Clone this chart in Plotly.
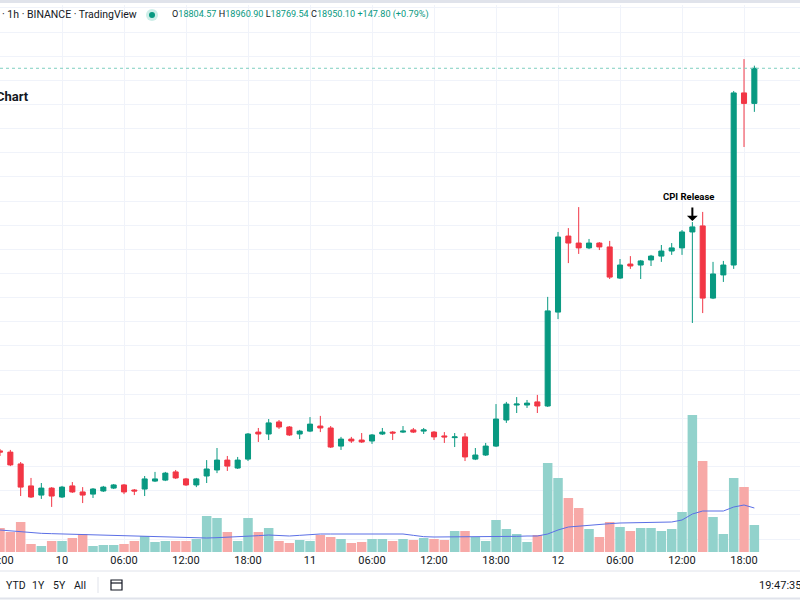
import plotly.graph_objects as go
import pandas as pd

# ---------------- data (BTC/USDT 1h, Binance) ----------------
start_time = "2023-01-09 18:00"
n_candles = 74

opens = [17365, 17360, 17311, 17220, 17182, 17211, 17174, 17220, 17195, 17186,
         17199, 17211, 17224, 17203, 17207, 17240, 17244, 17278, 17249, 17224,
         17261, 17286, 17327, 17294, 17331, 17443, 17435, 17485, 17464, 17435,
         17447, 17468, 17460, 17385, 17414, 17410, 17406, 17435, 17443, 17443,
         17452, 17447, 17443, 17427, 17420, 17423, 17331, 17348, 17385, 17493,
         17555, 17555, 17568, 17551, 17940, 18255, 18226, 18206, 18226, 18210,
         18081, 18139, 18135, 18156, 18172, 18193, 18206, 18272, 18297, 17998,
         18094, 18135, 18848, 18804.57]

highs = [17373, 17369, 17319, 17253, 17232, 17215, 17220, 17236, 17215, 17211,
         17220, 17228, 17228, 17207, 17261, 17278, 17278, 17286, 17253, 17253,
         17327, 17377, 17344, 17340, 17439, 17460, 17497, 17493, 17468, 17452,
         17505, 17510, 17468, 17423, 17423, 17439, 17435, 17460, 17447, 17468,
         17460, 17460, 17447, 17443, 17439, 17439, 17377, 17398, 17559, 17568,
         17588, 17576, 17597, 18003, 18272, 18288, 18375, 18243, 18230, 18235,
         18160, 18172, 18156, 18177, 18218, 18226, 18280, 18313, 18355, 18148,
         18152, 18856, 18988, 18960.90]

lows = [17344, 17302, 17178, 17170, 17166, 17133, 17170, 17191, 17149, 17170,
        17195, 17207, 17186, 17182, 17178, 17236, 17240, 17249, 17220, 17215,
        17232, 17273, 17282, 17290, 17323, 17402, 17410, 17456, 17427, 17414,
        17443, 17443, 17377, 17369, 17398, 17398, 17394, 17431, 17410, 17439,
        17439, 17435, 17410, 17398, 17381, 17323, 17327, 17344, 17381, 17481,
        17522, 17543, 17522, 17547, 17911, 18143, 18181, 18201, 18197, 18077,
        18077, 18119, 18077, 18131, 18148, 18177, 18177, 17895, 17936, 17994,
        18065, 18119, 18624, 18769.54]

closes = [17360, 17307, 17215, 17174, 17211, 17178, 17215, 17195, 17182, 17207,
          17215, 17224, 17195, 17199, 17249, 17249, 17273, 17253, 17224, 17249,
          17290, 17327, 17302, 17327, 17435, 17435, 17481, 17464, 17431, 17447,
          17476, 17460, 17381, 17414, 17406, 17402, 17431, 17443, 17439, 17447,
          17443, 17452, 17423, 17423, 17423, 17340, 17348, 17385, 17497, 17559,
          17559, 17563, 17551, 17945, 18251, 18226, 18206, 18226, 18210, 18085,
          18135, 18131, 18152, 18172, 18193, 18206, 18272, 18293, 17998, 18098,
          18135, 18848, 18804.57, 18950.10]

volumes = [7200, 6000, 9000, 2400, 1800, 3300, 3300, 4200, 5400, 1800,
           2100, 2100, 2400, 3300, 4800, 3000, 3300, 3300, 3300, 3900,
           10800, 10200, 6000, 3300, 10200, 6000, 7200, 3300, 2700, 3600,
           3300, 5100, 4500, 3900, 2700, 3000, 3900, 3900, 3300, 3900,
           3600, 4200, 3900, 3600, 6300, 6300, 4500, 3300, 9600, 6900,
           5400, 3000, 5100, 26700, 22200, 16200, 13200, 6900, 4500, 9000,
           7500, 6300, 7200, 7200, 6300, 6900, 12000, 41100, 27300, 10500,
           5400, 22200, 19500, 8100]

volume_ma = [6600, 6300, 6000, 5700, 5600, 5500, 5400, 5300, 5200, 5100,
             5100, 5000, 4900, 4800, 4700, 4600, 4500, 4400, 4300, 4200,
             4200, 4300, 4400, 4500, 4800, 4900, 5100, 5000, 4800, 5000,
             5300, 5400, 5400, 5400, 5400, 5400, 5400, 5400, 5400, 5400,
             5000, 4600, 4500, 4500, 4500, 4500, 4500, 4500, 4500, 4600,
             4700, 4800, 4800, 5400, 6600, 7500, 7800, 8100, 8300, 8500,
             8700, 8800, 8900, 9000, 9000, 9000, 9600, 11400, 12300, 12300,
             12300, 13500, 14100, 13200]

tick_times = ["2023-01-09 18:00", "2023-01-10 00:00", "2023-01-10 06:00", "2023-01-10 12:00",
              "2023-01-10 18:00", "2023-01-11 00:00", "2023-01-11 06:00", "2023-01-11 12:00",
              "2023-01-11 18:00", "2023-01-12 00:00", "2023-01-12 06:00", "2023-01-12 12:00",
              "2023-01-12 18:00"]
tick_labels = ["18:00", "10", "06:00", "12:00", "18:00", "11", "06:00", "12:00",
               "18:00", "12", "06:00", "12:00", "18:00"]

last_price = 18950.10
cpi_index = 67

# ---------------- styling ----------------
UP = "#089981"
DN = "#f23645"
VOL_UP = "#92d2cc"
VOL_DN = "#f7a9a7"
GRID = "#f0f3fa"
TXT = "#131722"
FONT = "Roboto"

W, H = 800, 600
MT, MB = 5, 48
PH = H - MT - MB


def fx(px):
    return px / W


def fy(py):
    return (H - MB - py) / PH


times = pd.date_range(start_time, periods=n_candles, freq="h")
vol_colors = [VOL_UP if c >= o else VOL_DN for o, c in zip(opens, closes)]

fig = go.Figure()
fig.add_trace(go.Bar(
    x=times, y=volumes, marker=dict(color=vol_colors, line=dict(width=0)),
    yaxis="y", hoverinfo="skip"))
fig.add_trace(go.Scatter(
    x=times, y=volume_ma, mode="lines", line=dict(color="#5b6fe6", width=1),
    yaxis="y", hoverinfo="skip"))
fig.add_trace(go.Candlestick(
    x=times, open=opens, high=highs, low=lows, close=closes,
    increasing=dict(line=dict(color=UP, width=1), fillcolor=UP),
    decreasing=dict(line=dict(color=DN, width=1), fillcolor=DN),
    whiskerwidth=0, yaxis="y2"))

fig.update_layout(
    width=W, height=H,
    margin=dict(l=0, r=0, t=MT, b=MB, autoexpand=False),
    paper_bgcolor="white", plot_bgcolor="white",
    showlegend=False, bargap=0.08,
    font=dict(family=FONT, color=TXT, size=11),
    xaxis=dict(
        range=["2023-01-09 18:00", "2023-01-12 23:25"],
        tickvals=tick_times, ticktext=tick_labels,
        showgrid=True, gridcolor=GRID, gridwidth=1,
        zeroline=False, showline=False, ticks="",
        tickfont=dict(size=11, color=TXT, family=FONT),
        ticklabeloverflow="allow", automargin=False,
        rangeslider=dict(visible=False),
    ),
    yaxis=dict(
        range=[0, 164100], showgrid=False, zeroline=False,
        showticklabels=False, ticks="", automargin=False,
    ),
    yaxis2=dict(
        range=[16946.2, 19212.2], overlaying="y", side="right",
        showgrid=True, gridcolor=GRID, dtick=100, tick0=0,
        zeroline=False, showticklabels=False, ticks="", automargin=False,
    ),
)

# last-price dotted line
fig.add_shape(type="line", xref="paper", x0=0, x1=1, yref="y2", y0=last_price, y1=last_price,
              line=dict(color="#7fcfc0", width=1, dash="dot"))

shapes = [
    # top border band
    dict(type="rect", xref="paper", yref="paper", x0=0, x1=1, y0=fy(3), y1=fy(0),
         fillcolor="#e0e3eb", line=dict(width=0), layer="above"),
    # separators of the bottom toolbar
    dict(type="line", xref="paper", yref="paper", x0=0, x1=1, y0=fy(571), y1=fy(571),
         line=dict(color="#e0e3eb", width=1)),
    dict(type="line", xref="paper", yref="paper", x0=0, x1=1, y0=fy(598.5), y1=fy(598.5),
         line=dict(color="#e0e3eb", width=2)),
    dict(type="line", xref="paper", yref="paper", x0=fx(98), x1=fx(98), y0=fy(577), y1=fy(593),
         line=dict(color="#e0e3eb", width=1)),
    # status dot
    dict(type="circle", xref="paper", yref="paper", x0=fx(146), x1=fx(158), y0=fy(21), y1=fy(9),
         fillcolor="#cdeee8", line=dict(width=0), layer="above"),
    dict(type="circle", xref="paper", yref="paper", x0=fx(149), x1=fx(155), y0=fy(18), y1=fy(12),
         fillcolor=UP, line=dict(width=0), layer="above"),
    # toolbar icon
    dict(type="rect", xref="paper", yref="paper", x0=fx(111), x1=fx(122), y0=fy(590), y1=fy(580),
         fillcolor="rgba(0,0,0,0)", line=dict(color=TXT, width=1.2)),
    dict(type="line", xref="paper", yref="paper", x0=fx(111), x1=fx(122), y0=fy(583), y1=fy(583),
         line=dict(color=TXT, width=1.2)),
]
for s in shapes:
    fig.add_shape(**s)

ohlc_text = ("O<span style='color:#089981'>18804.57</span> "
             "H<span style='color:#089981'>18960.90</span> "
             "L<span style='color:#089981'>18769.54</span> "
             "C<span style='color:#089981'>18950.10</span> "
             "<span style='color:#089981'>+147.80 (+0.79%)</span>")

annotations = [
    dict(text="· 1h · BINANCE · TradingView", x=fx(0), y=fy(15), xanchor="left", yanchor="middle",
         font=dict(size=10.5, color=TXT, family=FONT)),
    dict(text=ohlc_text, x=fx(170), y=fy(15), xanchor="left", yanchor="middle",
         font=dict(size=9.1, color=TXT, family=FONT)),
    dict(text="<b>Chart</b>", x=fx(31), y=fy(96), xanchor="right", yanchor="middle",
         font=dict(size=13, color=TXT, family=FONT)),
    dict(text="YTD", x=fx(16), y=fy(585), xanchor="center", yanchor="middle",
         font=dict(size=10.5, color=TXT, family=FONT)),
    dict(text="1Y", x=fx(38), y=fy(585), xanchor="center", yanchor="middle",
         font=dict(size=10.5, color=TXT, family=FONT)),
    dict(text="5Y", x=fx(59), y=fy(585), xanchor="center", yanchor="middle",
         font=dict(size=10.5, color=TXT, family=FONT)),
    dict(text="All", x=fx(80), y=fy(585), xanchor="center", yanchor="middle",
         font=dict(size=10.5, color=TXT, family=FONT)),
    dict(text="19:47:35 (UTC)", x=fx(757), y=fy(585), xanchor="left", yanchor="middle",
         font=dict(size=11, color=TXT, family=FONT)),
]
for a in annotations:
    fig.add_annotation(xref="paper", yref="paper", showarrow=False, **a)

# CPI release marker: bold down arrow with shaft
fig.add_annotation(x=times[cpi_index], y=highs[cpi_index], xref="x", yref="y2",
                   text="", showarrow=True, ax=0, ay=-16, arrowhead=1, arrowsize=0.9,
                   arrowwidth=2, arrowcolor="#000000", standoff=1)
fig.add_annotation(x=times[cpi_index], y=highs[cpi_index], xref="x", yref="y2",
                   text="<b>CPI Release</b>", showarrow=False, xshift=-4, yshift=26,
                   font=dict(size=9.5, color="#000000", family=FONT))

fig.write_html("out.html")
